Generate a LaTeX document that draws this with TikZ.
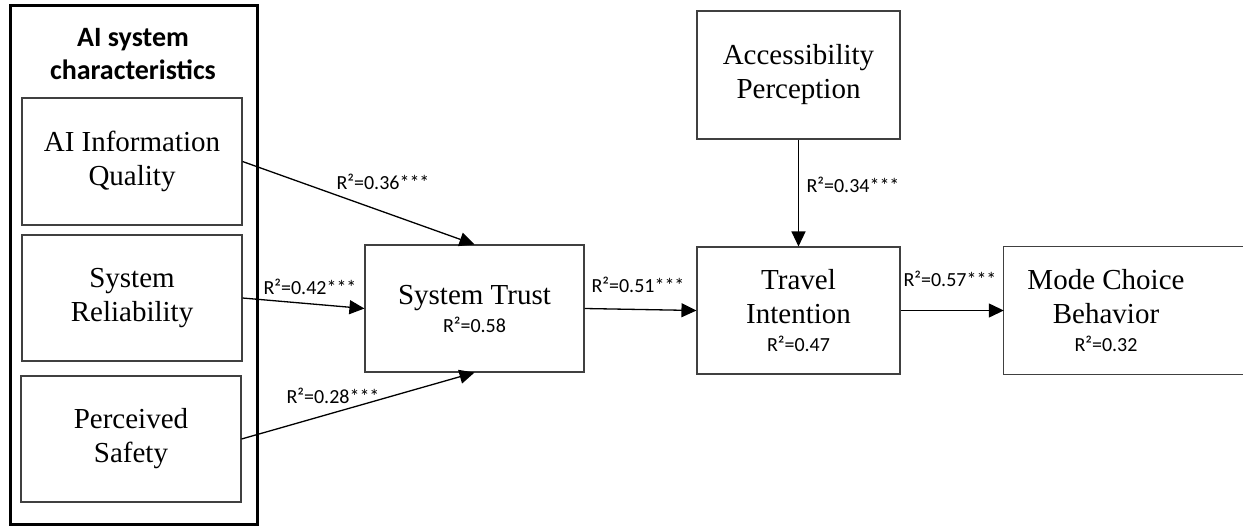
\documentclass[tikz,border=0pt]{standalone}
\usepackage{fontspec}
\setmainfont{Liberation Serif}
\setsansfont{Carlito}
\usetikzlibrary{arrows.meta}
\tikzset{>={Triangle[length=15pt,width=14pt]}}

\newcommand{\coef}[1]{{\sffamily\fontsize{20}{22}\selectfont #1}}

\begin{document}
\begin{tikzpicture}[x=1pt, y=-1pt,
		box/.style={draw=black!75, line width=1.1pt, align=center, inner sep=0pt,
			font=\fontsize{29}{34}\selectfont},
		conn/.style={->, line width=1.3pt},
		lbl/.style={inner sep=0pt, font=\sffamily\fontsize{20}{22}\selectfont}]
		\clip (0,0) rectangle (1243,531);

		% group of system characteristics
		\node[draw, line width=3pt, minimum width=247pt, minimum height=519pt] (group) at (133.5,264.5) {};
		\node[align=center, font=\sffamily\bfseries\fontsize{28}{33}\selectfont] (group_label) at (133,54) {AI system\\characteristics};

		\node[box, minimum width=220pt, minimum height=127pt] (aiq) at (132,161.5) {AI Information\\Quality};
		\node[box, minimum width=220pt, minimum height=126pt] (rel) at (132,298) {System\\Reliability};
		\node[box, minimum width=220pt, minimum height=126pt] (safe) at (131,439) {Perceived\\Safety};

		\node[box, minimum width=219pt, minimum height=127pt] (trust) at (474.5,308.5) {System Trust\\[-6pt]\coef{R²=0.58}};
		\node[box, minimum width=203pt, minimum height=128pt] (access) at (798.5,75) {Accessibility\\Perception};
		\node[box, minimum width=203pt, minimum height=127pt] (intent) at (798.5,310.5) {Travel\\Intention\\[-6pt]\coef{R²=0.47}};

		% box runs off the right edge
		\node[align=center, inner sep=0pt, minimum width=204pt, minimum height=127pt,
			font=\fontsize{29}{34}\selectfont] (mode) at (1106,310.5) {Mode Choice\\Behavior\\[-6pt]\coef{R²=0.32}};
		\draw[draw=black!75, line width=1.1pt] ([xshift=60pt]mode.north east) -- (mode.north west) -- (mode.south west) -- ([xshift=60pt]mode.south east);

		\draw[conn] (aiq.east) -- (trust.north);
		\draw[conn] (rel.east) -- (trust.west);
		\draw[conn] (safe.east) -- (trust.south);
		\draw[conn] (trust.east) -- (intent.west);
		\draw[conn] (access.south) -- (intent.north);
		\draw[conn] (intent.east) -- (mode.west);

		\node[lbl] (l_aiq) at (383,182) {R²=0.36***};
		\node[lbl] (l_rel) at (310,287) {R²=0.42***};
		\node[lbl] (l_safe) at (333,396) {R²=0.28***};
		\node[lbl] (l_trust) at (638,285) {R²=0.51***};
		\node[lbl] (l_access) at (853,185) {R²=0.34***};
		\node[lbl] (l_intent) at (950,279) {R²=0.57***};
\end{tikzpicture}
\end{document}
